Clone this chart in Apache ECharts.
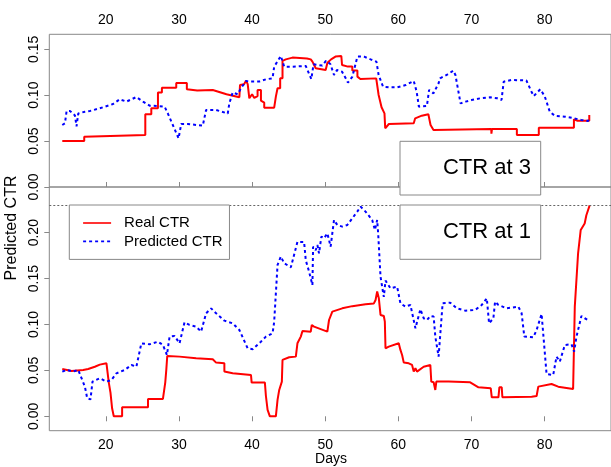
<!DOCTYPE html>
<html>
<head>
<meta charset="utf-8">
<script src="https://cdn.jsdelivr.net/npm/echarts@6/dist/echarts.min.js"></script>
<style>
html,body{margin:0;padding:0;background:#fff;}
#chart{width:611px;height:467px;}
</style>
</head>
<body>
<div id="chart"></div>
<script>
// tick labels
var dayTicks = [20, 30, 40, 50, 60, 70, 80];
var ctr3Ticks = [0, 0.05, 0.10, 0.15];
var ctr1Ticks = [0, 0.05, 0.10, 0.15, 0.20];

// CTR at 3 (top panel)
var real3Days = [14.05,17.05,17.05,25.4,25.4,26.22,26.22,27.13,27.13,27.67,27.67,29.63,29.63,31.08,31.08,32.5,34.62,36.5,38.26,38.35,38.35,38.9,39.17,39.4,39.62,40.0,40.3,40.75,40.75,41.21,41.21,41.66,41.66,43.02,43.25,43.48,43.84,43.84,44.16,44.16,44.61,45.52,47.5,48.02,48.25,48.7,50.06,50.3,50.8,51.4,52.2,52.3,53.1,53.7,53.7,54.4,54.4,54.8,56.97,57.3,57.7,58.1,58.2,58.7,62.1,62.3,63.2,64.1,64.4,64.8,72.7,72.72,72.8,76.2,76.2,79.2,79.2,84.0,84.0,84.5,86.1,86.1];
var real3Vals = [0.0501,0.0501,0.0548,0.0566,0.0792,0.0792,0.0857,0.0857,0.1028,0.1028,0.1082,0.1082,0.1133,0.1133,0.1064,0.105,0.1057,0.101,0.0977,0.0977,0.1111,0.112,0.1158,0.112,0.0966,0.101,0.097,0.099,0.1057,0.1057,0.094,0.0919,0.0864,0.0864,0.0984,0.1075,0.1075,0.1184,0.1184,0.1373,0.139,0.1409,0.140,0.139,0.1365,0.1293,0.1274,0.1354,0.139,0.142,0.1427,0.1329,0.1311,0.1311,0.127,0.127,0.1202,0.1176,0.1183,0.1002,0.0868,0.0802,0.0639,0.0686,0.0694,0.0748,0.0777,0.0792,0.0675,0.0621,0.0632,0.058,0.0632,0.0632,0.0566,0.0566,0.0646,0.0646,0.0737,0.0722,0.0722,0.0784];
var pred3Days = [14.05,14.41,14.64,15.1,15.78,16.0,16.23,17.14,17.82,19.18,21.0,21.91,22.82,24.18,25.09,25.99,27.13,28.04,28.49,29.17,29.95,30.31,31.22,33.26,33.71,35.08,36.67,36.89,37.35,38.03,38.48,39.17,39.62,40.98,41.89,42.8,43.02,43.93,44.39,45.52,47.34,48.1,48.4,49.6,50.1,50.7,51.2,51.6,52.3,52.8,53.1,53.7,54.4,55.3,56.2,57.0,57.3,57.9,58.9,59.8,61.0,62.1,62.5,62.8,63.9,64.2,64.8,65.5,65.7,66.6,67.5,67.8,68.5,69.2,70.0,71.2,72.5,73.5,74.1,74.4,75.5,77.5,78.2,78.5,79.4,80.0,80.7,81.4,82.8,83.9,85.0,85.9,86.1];
var pred3Vals = [0.0675,0.0693,0.0828,0.0828,0.078,0.066,0.080,0.082,0.0828,0.0857,0.0904,0.0955,0.093,0.098,0.093,0.0886,0.0882,0.0875,0.080,0.0675,0.053,0.0686,0.0686,0.0668,0.0839,0.0839,0.080,0.091,0.103,0.101,0.1075,0.1155,0.1148,0.1148,0.1173,0.1184,0.131,0.1427,0.131,0.131,0.1318,0.1176,0.1336,0.1322,0.1373,0.134,0.122,0.1274,0.1256,0.1184,0.1137,0.120,0.142,0.142,0.139,0.1365,0.122,0.1093,0.1085,0.1085,0.111,0.1155,0.1038,0.0875,0.0882,0.1057,0.102,0.113,0.1184,0.122,0.1267,0.122,0.0911,0.093,0.0947,0.0966,0.0977,0.0966,0.0948,0.1147,0.1166,0.116,0.1038,0.099,0.1064,0.099,0.082,0.0775,0.0766,0.075,0.073,0.0719,0.0737];

// CTR at 1 (bottom panel)
var real1Days = [14.05,15.32,16.91,17.59,18.5,19.18,20.09,20.18,20.41,20.64,20.86,21.09,22.23,22.23,25.77,25.77,27.81,28.13,28.27,28.4,30.08,32.35,34.62,35.08,36.21,36.21,37.35,39.85,39.94,41.75,41.89,42.12,42.43,43.25,43.48,43.71,44.07,44.16,45.07,45.98,46.2,46.66,46.89,48.02,48.16,48.47,48.7,50.29,50.52,50.97,52.33,53.7,55.51,56.65,56.88,57.1,57.33,57.56,58.01,58.15,58.24,58.69,60.05,60.28,60.51,60.74,61.42,61.87,62.1,62.33,62.55,63.46,64.37,64.5,64.82,65.05,65.19,66.87,69.82,70.95,72.63,72.77,73.68,73.81,74.13,74.22,78.22,78.9,79.13,80.94,81.85,83.89,84.12,84.57,84.93,85.47,85.7,86.15];
var real1Vals = [0.0516,0.0494,0.0505,0.0516,0.054,0.0563,0.0577,0.0588,0.0367,0.0258,0.0087,0,0,0.0098,0.0098,0.0189,0.0189,0.037,0.0505,0.0657,0.065,0.0632,0.0621,0.0585,0.0577,0.0487,0.0468,0.045,0.0367,0.0367,0.0221,0.0069,0,0,0.0178,0.0287,0.0378,0.0614,0.0643,0.065,0.0795,0.0868,0.093,0.0922,0.0995,0.0977,0.0977,0.0922,0.1049,0.114,0.1176,0.120,0.122,0.123,0.1267,0.136,0.1285,0.1104,0.1093,0.1031,0.0741,0.0759,0.0795,0.0723,0.0668,0.0585,0.0577,0.0559,0.0487,0.0523,0.0487,0.054,0.0559,0.0378,0.037,0.0287,0.0378,0.0378,0.037,0.0316,0.0305,0.0207,0.0207,0.0316,0.0316,0.0207,0.0214,0.0221,0.0323,0.0352,0.0323,0.0298,0.1195,0.1776,0.203,0.210,0.219,0.2298];
var pred1Days = [14.05,14.64,15.55,16.23,17.14,17.46,17.91,18.18,19.18,20.09,20.77,21.45,22.59,23.5,24.18,24.86,25.99,27.13,27.81,28.36,28.72,29.4,30.08,30.76,31.44,32.35,33.03,33.71,34.4,35.08,36.21,37.35,38.26,39.39,40.08,41.21,41.89,42.8,43.02,43.48,43.93,44.39,45.3,46.2,47.11,47.34,47.79,48.25,48.34,48.7,48.93,49.15,49.47,49.84,50.06,50.29,50.74,51.2,51.65,52.33,53.02,53.7,54.38,54.84,55.51,56.42,56.79,57.1,57.24,57.56,58.01,58.24,58.92,59.83,60.28,60.96,61.65,62.33,63.01,63.46,63.92,64.37,64.82,65.05,65.5,66.05,67.09,67.99,69.14,70.5,71.4,72.09,72.4,72.99,73.22,73.68,74.81,76.4,76.85,77.22,78.45,78.9,79.58,80.26,81.17,81.62,82.07,82.76,83.67,84.03,84.35,85.03,85.48,85.94];
var pred1Vals = [0.0487,0.0505,0.0487,0.0505,0.0323,0.0196,0.0185,0.0378,0.0414,0.0378,0.0396,0.0468,0.0505,0.0559,0.054,0.0795,0.0784,0.0813,0.0777,0.0668,0.0868,0.0875,0.0795,0.1024,0.0995,0.0977,0.0922,0.1122,0.1176,0.1122,0.1042,0.1013,0.094,0.0741,0.073,0.0813,0.0868,0.0904,0.1029,0.1649,0.174,0.1667,0.1623,0.190,0.190,0.170,0.1576,0.143,0.1848,0.181,0.1866,0.1775,0.1957,0.194,0.1957,0.1993,0.1848,0.2139,0.2084,0.2066,0.2084,0.2157,0.223,0.2284,0.223,0.2139,0.203,0.2139,0.199,0.1521,0.130,0.1478,0.1394,0.1412,0.1231,0.1195,0.1213,0.0959,0.1166,0.1068,0.1049,0.1093,0.1086,0.0868,0.065,0.1231,0.1238,0.1176,0.1151,0.1158,0.1213,0.1285,0.1013,0.1068,0.1249,0.1213,0.1176,0.1195,0.1122,0.0868,0.0861,0.094,0.1115,0.0461,0.045,0.065,0.0595,0.0777,0.0784,0.0704,0.0868,0.1093,0.1068,0.1049];
var real1Max = 0.2298;

function pairs(xs, ys) {
    var out = [];
    for (var i = 0; i < xs.length; i++) out.push([xs[i], ys[i]]);
    return out;
}

var font = 'Liberation Sans, Arial, sans-serif';
var frame = '#888';

function xAx(grid, pos) {
    return {
        type: 'value', gridIndex: grid, position: pos,
        min: 12.275, max: 89.07,
        axisLine: { show: false },
        axisTick: { show: true, length: 5, lineStyle: { color: frame }, customValues: dayTicks },
        axisLabel: { color: '#000', fontSize: 14, fontFamily: font, margin: 7, customValues: dayTicks },
        splitLine: { show: false }
    };
}
function yAx(grid, lo, hi, ticks) {
    return {
        type: 'value', gridIndex: grid, min: lo, max: hi,
        axisLine: { show: false },
        axisTick: { show: true, length: 5, lineStyle: { color: frame }, customValues: ticks },
        axisLabel: {
            color: '#000', fontSize: 14, fontFamily: font, rotate: 90, margin: 8,
            customValues: ticks,
            formatter: function (v) { return v.toFixed(2); }
        },
        splitLine: { show: false }
    };
}
function line(name, grid, data, color, dotted) {
    return {
        name: name, type: 'line', xAxisIndex: grid, yAxisIndex: grid,
        data: data, symbol: 'none', animation: false,
        lineStyle: { color: color, width: 2, type: dotted ? [3, 3] : 'solid' },
        itemStyle: { color: color }
    };
}

var chart = echarts.init(document.getElementById('chart'));
var real1 = line('Real CTR', 1, pairs(real1Days, real1Vals), '#ff0000', false);
real1.markLine = {
    silent: true, symbol: 'none', label: { show: false },
    lineStyle: { color: '#666', width: 1, type: [2, 2] },
    data: [{ yAxis: real1Max }]
};

var option = {
    backgroundColor: '#fff',
    grid: [
        { left: 49.3, top: 34.3, width: 564, height: 152.7, show: true, borderColor: frame, borderWidth: 1 },
        { left: 49.3, top: 187, width: 564, height: 243.7, show: true, borderColor: frame, borderWidth: 1 }
    ],
    xAxis: [xAx(0, 'top'), xAx(1, 'bottom')],
    yAxis: [yAx(0, 0, 0.1663, ctr3Ticks), yAx(1, -0.0157, 0.2498, ctr1Ticks)],
    legend: {
        left: 69.3, top: 205, orient: 'vertical',
        data: ['Real CTR', 'Predicted CTR'],
        backgroundColor: '#fff', borderColor: frame, borderWidth: 1,
        padding: [10, 7, 10, 13], itemWidth: 28, itemHeight: 14, itemGap: 2.4,
        itemStyle: { opacity: 0, borderWidth: 0 },
        lineStyle: { width: 1.6 },
        textStyle: { fontSize: 15, fontFamily: font, color: '#000', lineHeight: 16, padding: [0, 0, 0, 8] },
        z: 10
    },
    series: [
        line('Real CTR', 0, pairs(real3Days, real3Vals), '#ff0000', false),
        line('Predicted CTR', 0, pairs(pred3Days, pred3Vals), '#0000ff', true),
        real1,
        line('Predicted CTR', 1, pairs(pred1Days, pred1Vals), '#0000ff', true)
    ],
    graphic: [
        { type: 'rect', z: 100, shape: { x: 400, y: 141.3, width: 140.7, height: 53.7 }, style: { fill: '#fff', stroke: frame, lineWidth: 1 } },
        { type: 'text', z: 101, x: 531, y: 168, style: { text: 'CTR at 3', font: '22px ' + font, fill: '#000', textAlign: 'right', textVerticalAlign: 'middle' } },
        { type: 'rect', z: 100, shape: { x: 400, y: 205, width: 140.7, height: 54.3 }, style: { fill: '#fff', stroke: frame, lineWidth: 1 } },
        { type: 'text', z: 101, x: 531, y: 232.3, style: { text: 'CTR at 1', font: '22px ' + font, fill: '#000', textAlign: 'right', textVerticalAlign: 'middle' } },
        { type: 'text', z: 101, x: 12, y: 228, rotation: Math.PI / 2, style: { text: 'Predicted CTR', font: '16px ' + font, fill: '#000', textAlign: 'center', textVerticalAlign: 'middle' } },
        { type: 'text', z: 101, x: 331, y: 459, style: { text: 'Days', font: '14px ' + font, fill: '#000', textAlign: 'center', textVerticalAlign: 'middle' } }
    ]
};
chart.setOption(option);
</script>
</body>
</html>
